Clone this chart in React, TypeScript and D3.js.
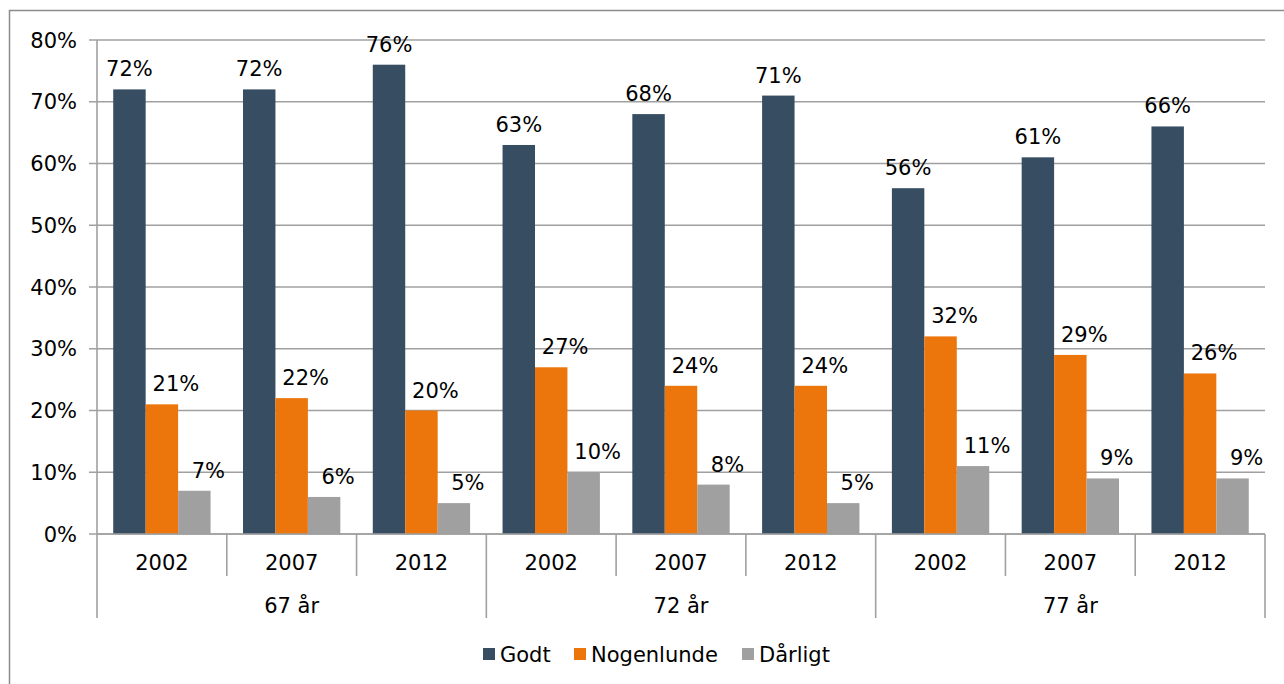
import React from "react";
import * as d3 from "d3";

// categories: age groups and survey years
const ageGroups = ["67 år", "72 år", "77 år"];
const years = ["2002", "2007", "2012"];
const seriesNames = ["Godt", "Nogenlunde", "Dårligt"];
const seriesColors = ["#374d62", "#ec760b", "#a0a0a0"];

// values in percent, one per (age group, year)
const godt = [72, 72, 76, 63, 68, 71, 56, 61, 66];
const nogenlunde = [21, 22, 20, 27, 24, 24, 32, 29, 26];
const daarligt = [7, 6, 5, 10, 8, 5, 11, 9, 9];

const yTicks = [0, 10, 20, 30, 40, 50, 60, 70, 80];

const W = 1284;
const H = 684;
const FONT = "'DejaVu Sans', Verdana, sans-serif";
const FS = 21;

const App = () => {
  const seriesValues = [godt, nogenlunde, daarligt];
  const cats = d3.range(godt.length).map(String);

  // plot area
  const left = 97,
    right = 1265,
    top = 40,
    bottom = 534;

  const x = d3.scaleBand().domain(cats).range([left, right]).padding(0);
  const xInner = d3
    .scaleBand()
    .domain(seriesNames)
    .range([0, x.bandwidth()])
    .paddingInner(0)
    .paddingOuter(0.5);
  const y = d3.scaleLinear().domain([0, 80]).range([bottom, top]);

  const gridColor = "#a0a0a0";
  const boundaries = d3.range(cats.length + 1).map((i) => left + i * x.step());
  // labels of the two smaller series sit a bit to the right of their bars
  const labelShift = [0, 14, 14];

  // legend layout
  const legendY = 654;
  const legendItems = [
    { name: seriesNames[0], x: 483 },
    { name: seriesNames[1], x: 574 },
    { name: seriesNames[2], x: 742 },
  ];

  return (
    <div style={{ position: "absolute", left: 0, top: 0 }}>
      <svg width={W} height={H} style={{ display: "block" }}>
        <rect x={0} y={0} width={W} height={H} fill="#fff" />
        {/* outer chart frame */}
        <rect x={9.5} y={10.5} width={W + 20} height={H + 20} fill="none" stroke="#8c8c8c" strokeWidth={1.5} />

        {/* gridlines and y labels */}
        {yTicks.map((t) => (
          <g key={t}>
            <line x1={left - 8} x2={right} y1={y(t)} y2={y(t)} stroke={gridColor} strokeWidth={1.6} />
            <text
              x={77}
              y={y(t)}
              dy="0.36em"
              textAnchor="end"
              fontFamily={FONT}
              fontSize={FS}
              fill="#000"
            >
              {t}%
            </text>
          </g>
        ))}
        <line x1={left} x2={left} y1={top} y2={bottom} stroke={gridColor} strokeWidth={1.6} />

        {/* bars */}
        {seriesValues.map((vals, s) =>
          vals.map((v, i) => (
            <rect
              key={`${s}-${i}`}
              x={(x(cats[i]) as number) + (xInner(seriesNames[s]) as number)}
              y={y(v)}
              width={xInner.bandwidth()}
              height={bottom - y(v)}
              fill={seriesColors[s]}
            />
          ))
        )}

        {/* value labels */}
        {seriesValues.map((vals, s) =>
          vals.map((v, i) => (
            <text
              key={`l-${s}-${i}`}
              x={(x(cats[i]) as number) + (xInner(seriesNames[s]) as number) + xInner.bandwidth() / 2 + labelShift[s]}
              y={y(v) - 13}
              textAnchor="middle"
              fontFamily={FONT}
              fontSize={FS}
              fill="#000"
            >
              {v}%
            </text>
          ))
        )}

        {/* category axis */}
        <line x1={left} x2={right} y1={bottom} y2={bottom} stroke={gridColor} strokeWidth={1.6} />
        {boundaries.map((bx, i) => (
          <line
            key={`b-${i}`}
            x1={bx}
            x2={bx}
            y1={bottom}
            y2={i % years.length === 0 ? 618 : 576}
            stroke={gridColor}
            strokeWidth={1.6}
          />
        ))}
        {cats.map((c, i) => (
          <text
            key={`y-${c}`}
            x={(x(c) as number) + x.bandwidth() / 2}
            y={562}
            dy="0.36em"
            textAnchor="middle"
            fontFamily={FONT}
            fontSize={FS}
            fill="#000"
          >
            {years[i % years.length]}
          </text>
        ))}
        {ageGroups.map((g, gi) => (
          <text
            key={g}
            x={left + (gi + 0.5) * years.length * x.step()}
            y={605}
            dy="0.36em"
            textAnchor="middle"
            fontFamily={FONT}
            fontSize={FS}
            fill="#000"
          >
            {g}
          </text>
        ))}

        {/* legend */}
        {legendItems.map((item, i) => (
          <g key={item.name}>
            <rect x={item.x} y={legendY - 6} width={12} height={12} fill={seriesColors[i]} />
            <text
              x={item.x + 17}
              y={legendY}
              dy="0.36em"
              fontFamily={FONT}
              fontSize={FS}
              fill="#000"
            >
              {item.name}
            </text>
          </g>
        ))}
      </svg>
    </div>
  );
};

export default App;
